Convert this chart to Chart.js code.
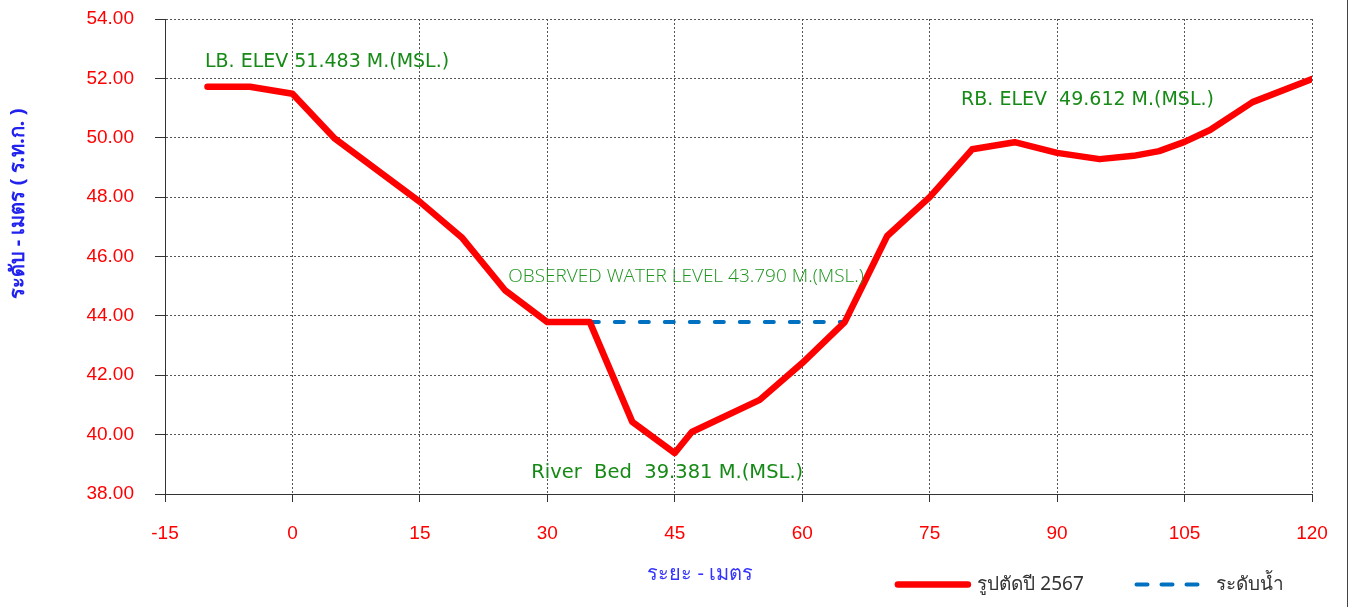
<!DOCTYPE html>
<html>
<head>
<meta charset="utf-8">
<script src="https://cdn.jsdelivr.net/npm/chart.js@4"></script>
<style>
  html, body { margin: 0; padding: 0; background: #fff; overflow: hidden; }
  #wrap { width: 1347px; height: 607px; border-right: 1px solid #444; }
</style>
</head>
<body>
<div id="wrap"><canvas id="section"></canvas></div>
<script>
// cross section, distance (m) vs elevation (m MSL)
const distance = [-10, -5, 0, 5, 15, 20, 25, 30, 35, 40, 45, 47, 55, 60, 65, 70, 75, 80, 85, 90, 95, 99, 102, 105, 108, 113, 120];
const elevation = [51.72, 51.72, 51.48, 49.97, 47.84, 46.62, 44.87, 43.79, 43.79, 40.43, 39.38, 40.09, 41.17, 42.41, 43.79, 46.69, 48.0, 49.61, 49.85, 49.49, 49.28, 49.39, 49.55, 49.86, 50.26, 51.2, 51.98];

// observed water surface
const waterX = [35, 65];
const waterY = [43.79, 43.79];

const seriesNames = ['รูปตัดปี 2567', 'ระดับน้ำ'];
const xTitle = 'ระยะ - เมตร';
const yTitle = 'ระดับ - เมตร ( ร.ท.ก. )';
const noteTexts = [
  'LB. ELEV 51.483 M.(MSL.)',
  'RB. ELEV  49.612 M.(MSL.)',
  'OBSERVED WATER LEVEL 43.790 M.(MSL.)',
  'River  Bed  39.381 M.(MSL.)'
];

const toPoints = (xs, ys) => xs.map((v, i) => ({ x: v, y: ys[i] }));

// text labels and axis titles, placed in data units
const notes = {
  id: 'notes',
  afterDatasetsDraw(chart) {
    const { ctx, scales: { x, y } } = chart;
    const plain = '19px "DejaVu Sans", sans-serif';
    const spots = [
      { x: -10.3, y: 52.55, font: plain, color: '#168a16' },
      { x: 78.7, y: 51.27, font: plain, color: '#168a16' },
      { x: 25.4, y: 45.31, font: '300 19px "Open Sans", "Noto Sans", sans-serif', color: '#1f951f' },
      { x: 28.1, y: 38.71, font: '19.5px "DejaVu Sans", sans-serif', color: '#168a16' }
    ];
    ctx.save();
    ctx.textAlign = 'left';
    ctx.textBaseline = 'middle';
    noteTexts.forEach((t, i) => {
      ctx.font = spots[i].font;
      ctx.fillStyle = spots[i].color;
      ctx.fillText(t, x.getPixelForValue(spots[i].x), y.getPixelForValue(spots[i].y));
    });

    ctx.textAlign = 'center';
    ctx.fillStyle = '#3333ff';
    ctx.font = '20px "Noto Sans", sans-serif';
    ctx.fillText(xTitle, x.getPixelForValue(48), y.getPixelForValue(35.31));

    ctx.translate(18, y.getPixelForValue(47.77));
    ctx.rotate(-Math.PI / 2);
    ctx.fillStyle = '#2222ee';
    ctx.font = 'bold 20px "Noto Sans", sans-serif';
    ctx.fillText(yTitle, 0, 0);
    ctx.restore();
  }
};

const tickFont = { family: '"Liberation Sans", Arial, sans-serif', size: 19 };

new Chart(document.getElementById('section'), {
  type: 'line',
  data: {
    datasets: [{
      label: seriesNames[0],
      data: toPoints(distance, elevation),
      borderColor: '#ff0000',
      backgroundColor: '#ff0000',
      borderWidth: 6.5,
      borderCapStyle: 'round',
      borderJoinStyle: 'round',
      pointRadius: 0,
      tension: 0
    }, {
      label: seriesNames[1],
      data: toPoints(waterX, waterY),
      borderColor: '#0070c0',
      backgroundColor: '#0070c0',
      borderWidth: 4,
      borderDash: [9, 16],
      borderCapStyle: 'round',
      pointRadius: 0
    }]
  },
  options: {
    responsive: true,
    maintainAspectRatio: false,
    animation: false,
    layout: { padding: { top: 19, right: 35, bottom: 3, left: 0 } },
    plugins: {
      tooltip: { enabled: false },
      legend: {
        position: 'bottom',
        align: 'end',
        labels: {
          usePointStyle: true,
          pointStyle: 'line',
          pointStyleWidth: 70,
          padding: 28,
          color: '#333',
          font: { family: '"Noto Sans", sans-serif', size: 19 },
          generateLabels(chart) {
            const items = Chart.defaults.plugins.legend.labels.generateLabels(chart);
            items.forEach(it => {
              const ds = chart.data.datasets[it.datasetIndex];
              it.lineDash = ds.borderDash ? [11, 14] : [];
              it.lineCap = 'round';
            });
            // widen the gap after the first entry
            items[0].text += '     ';
            return items;
          }
        }
      }
    },
    scales: {
      x: {
        type: 'linear',
        min: -15,
        max: 120,
        ticks: { stepSize: 15, color: '#ff0000', font: tickFont, padding: 20 },
        grid: { color: '#555', tickColor: '#333', tickLength: 8, tickBorderDash: [] },
        border: { display: true, color: '#333', width: 1, dash: [2, 2] },
        afterFit(s) { s.height = 53; s.paddingRight = 35; }
      },
      y: {
        min: 38,
        max: 54,
        ticks: { stepSize: 2, color: '#ff0000', font: tickFont, padding: 21, callback: v => v.toFixed(2) },
        grid: { color: '#555', tickColor: '#333', tickLength: 10, tickBorderDash: [] },
        border: { display: true, color: '#333', width: 1, dash: [2, 2] },
        afterFit(s) { s.width = 165; s.paddingTop = 0; }
      }
    }
  },
  plugins: [notes]
});
</script>
</body>
</html>
